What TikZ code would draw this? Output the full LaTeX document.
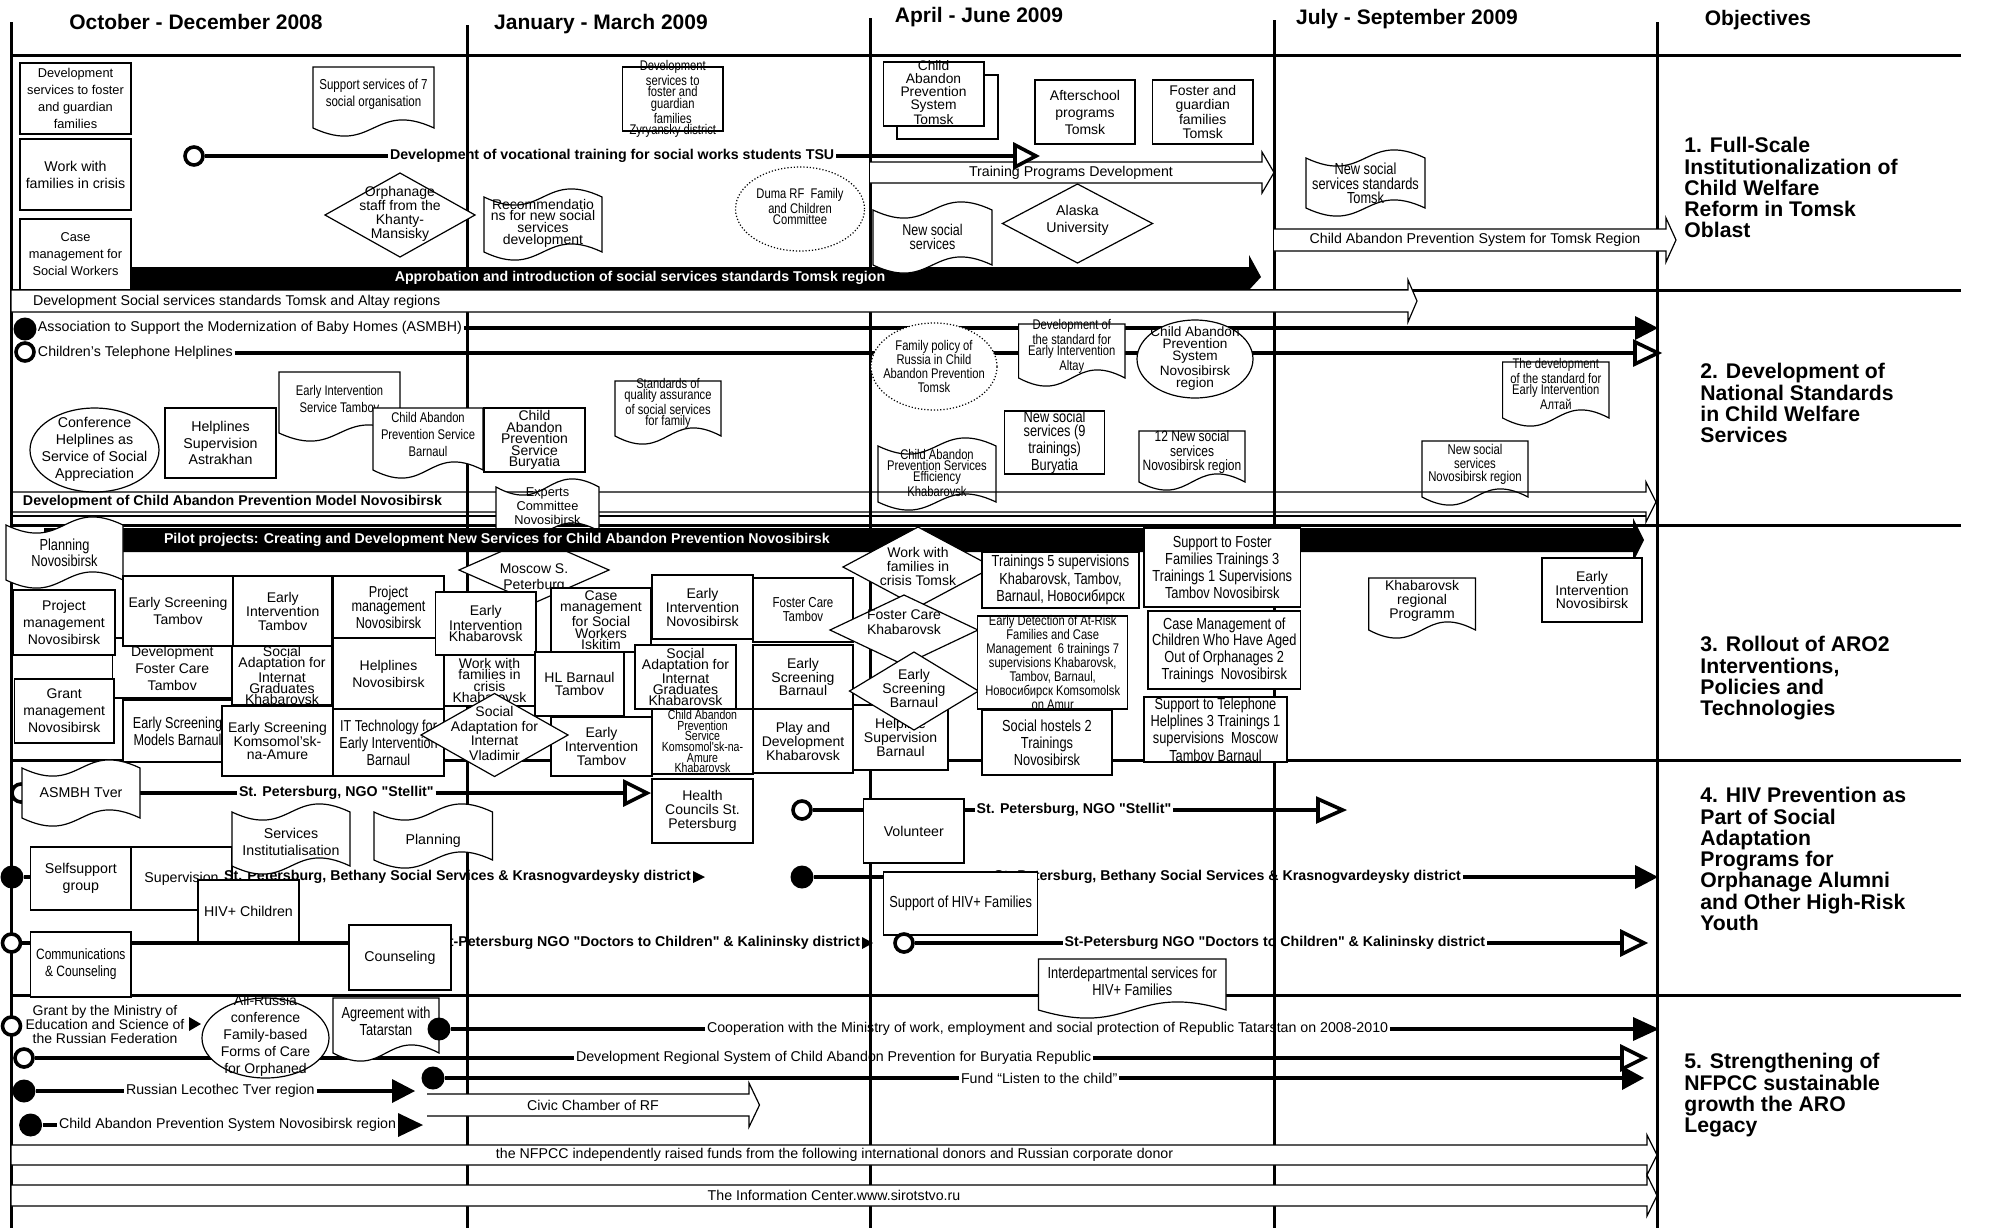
\documentclass[tikz,border=0pt]{standalone}
\usepackage{fontspec}
\setmainfont{Liberation Sans}
\newfontfamily\cond[FakeStretch=0.8]{Liberation Sans}
\newcommand\F[2]{\fontsize{#1}{#2}\selectfont}
\newcommand\qq{\XeTeXglyph\XeTeXglyphindex "quotedbl"\relax}
\tikzset{
 gridl/.style={line width=1.5pt},
 bx/.style={draw, line width=0.6pt, fill=white},
 wa/.style={draw, line width=0.6pt, fill=white, line join=miter},
 tx/.style={inner sep=0pt, align=center},
 conn/.style={line width=2.2pt},
 ocirc/.style={circle, draw, line width=1.8pt, fill=white, minimum size=9pt, inner sep=0pt},
 fcirc/.style={circle, fill=black, minimum size=11.5pt, inner sep=0pt},
 blab/.style={inner sep=0.8pt, font={\bfseries\F{7.1}{8}}},
 rlab/.style={inner sep=0.8pt, font={\F{7.1}{8}}},
 hdr/.style={inner sep=0pt, font={\bfseries\F{10.5}{12}}},
 obj/.style={inner sep=0pt, align=left, anchor=north west, font={\bfseries\F{10.6}{10.65}}},
}
\newcommand\rbox[7]{\draw[bx] (#2,#3) rectangle (#4,#5);
 \node[tx,font={#6}] (#1) at ({(#2+#4)/2},{(#3+#5)/2}) {#7};}
\newcommand\docb[8]{\draw[bx] (#2,#3) -- (#4,#3) -- (#4,#5) .. controls ({(#2+#4)/2},{#5-28}) and ({(#2+#4)/2},{#5+28}) .. (#2,#5) -- cycle;
 \node[tx,font={#7}] (#1) at ({(#2+#4)/2},#6) {#8};}
\newcommand\tapeb[8]{\draw[bx] (#2,#3) .. controls ({(#2+#4)/2},{#3+28}) and ({(#2+#4)/2},{#3-28}) .. (#4,#3) -- (#4,#5) .. controls ({(#2+#4)/2},{#5-28}) and ({(#2+#4)/2},{#5+28}) .. (#2,#5) -- cycle;
 \node[tx,font={#7}] (#1) at ({(#2+#4)/2},#6) {#8};}
\newcommand\dia[8]{\draw[bx] ({#2-#4},#3) -- (#2,{#3-#5}) -- ({#2+#4},#3) -- (#2,{#3+#5}) -- cycle;
 \node[tx,font={#7}] (#1) at (#2,#6) {#8};}
\newcommand\ellb[9][]{\draw[bx,#1] (#3,#4) ellipse [x radius={#5*0.5pt}, y radius={#6*0.5pt}];
 \node[tx,font={#8}] (#2) at (#3,#7) {#9};}
\newcommand\fhead[4][12]{\fill (#2,{#4-#1}) -- (#3,#4) -- (#2,{#4+#1}) -- cycle;}
\newcommand\ohead[4][11]{\draw[line width=1.8pt,fill=white,line join=miter] (#2,{#4-#1}) -- (#3,#4) -- (#2,{#4+#1}) -- cycle;}
\begin{document}
\begin{tikzpicture}[x=0.5pt,y=-0.5pt]
\useasboundingbox (0,0) rectangle (1997,1228);
\fill[white] (0,0) rectangle (1997,1228);
% headers
\node[hdr] (h1) at (196,22) {October - December 2008};
\node[hdr] (h2) at (601,24) {January - March 2009};
\node[hdr] (h3) at (979,17) {April - June 2009};
\node[hdr] (h4) at (1407,19) {July - September 2009};
\node[hdr] (h5) at (1758,20) {Objectives};
% grid
\draw[gridl] (11,22) -- (11,1228);
\draw[gridl] (467,25) -- (467,1228);
\draw[gridl] (870,18) -- (870,1228);
\draw[gridl] (1274,20) -- (1274,1228);
\draw[gridl] (1657,22) -- (1657,1228);
\foreach \yy in {55,290,525,760,995} {\draw[gridl] (11,\yy) -- (1961,\yy);}
% ===== Row 1
\rbox{a1}{20}{63}{131}{134}{\F{6.4}{8.5}}{Development\\services to foster\\and guardian\\families}
\rbox{a2}{20}{139}{131}{210}{\F{7.1}{8.5}}{Work with\\families in crisis}
\docb{d1}{313}{67}{434}{128}{94.5}{\cond\F{7.2}{8.5}}{Support services of 7\\social organisation}
\node[ocirc] (c1) at (194,156) {};
\node[blab,anchor=west] (l1) at (388,156) {Development of vocational training for social works students TSU};
\draw[conn] (c1.east) -- (l1.west);
\draw[conn] (l1.east) -- (1015,156);
\dia{o1}{400}{215}{75}{42}{214}{\F{7}{7}}{Orphanage\\staff from the\\Khanty-\\Mansisky}
\tapeb{r1}{484}{197}{602}{252}{223}{\F{7}{5.8}}{Recommendatio\\ns for new social\\services\\development}
\rbox{z1}{622.5}{67}{723}{131}{\cond\F{7}{5.75}}{Development\\services to\\foster and\\guardian\\families\\Zyryansky district}
\draw[bx] (897,75) rectangle (998,139);
\draw[bx] (883.5,62) rectangle (984,126);
\node[tx,font={\F{6.9}{6.4}}] (cap1) at (933.5,92.5) {Child\\Abandon\\Prevention\\System\\Tomsk};
\rbox{as1}{1035}{80}{1135}{144}{\F{7}{8.5}}{Afterschool\\programs\\Tomsk}
\rbox{fg1}{1152.5}{80}{1253}{144}{\F{7}{7.2}}{Foster and\\guardian\\families\\Tomsk}
\ellb[densely dotted]{du1}{800}{209}{64.5}{42}{206.7}{\cond\F{7}{5.75}}{Duma RF~ Family\\and Children\\Committee}
\draw[wa] (870,162) -- (1262,162) -- (1262,152) -- (1274,172.5) -- (1262,193) -- (1262,183) -- (870,183);
\node[rlab] (tp) at (1071,172.5) {Training Programs Development};
\ohead{1015}{1036}{156}
\dia{al1}{1077.5}{223.5}{75}{39.5}{220.5}{\F{7.1}{8.5}}{Alaska\\University}
\draw[wa] (1274,229) -- (1666,229) -- (1666,218) -- (1676,240) -- (1666,262) -- (1666,251) -- (1274,251);
\node[rlab] (tr) at (1475,239.5) {Child Abandon Prevention System for Tomsk Region};
\tapeb{nst}{1306}{158}{1425}{208}{183.5}{\cond\F{8}{7.2}}{New social\\services standards\\Tomsk}
\fill (100,267) -- (1249,267) -- (1249,255) -- (1261,277) -- (1249,290) -- (100,290) -- cycle;
\node[blab,text=white] (apb) at (640,278) {Approbation and introduction of social services standards Tomsk region};
\rbox{a3}{20}{219}{131}{290}{\F{6.4}{8.5}}{Case\\management for\\Social Workers}
\tapeb{ns1}{873}{210}{992}{265}{237}{\cond\F{7.8}{7}}{New social\\services}
\draw[wa] (11,290) -- (1408,290) -- (1408,280) -- (1417,301) -- (1408,322) -- (1408,312) -- (11,312) -- cycle;
\node[rlab,anchor=west] (dss) at (31,302) {Development Social services standards Tomsk and Altay regions};
% ===== Row 2
\node[fcirc] (c2) at (25,329) {};
\node[rlab,anchor=west] (l2) at (36,328) {Association to Support the Modernization of Baby Homes (ASMBH)};
\draw[conn] (l2.east) -- (1635,328);
\fhead{1635}{1658}{328}
\node[ocirc] (c3) at (25,352) {};
\node[rlab,anchor=west] (l3) at (36,353) {Children’s Telephone Helplines};
\draw[conn] (l3.east) -- (1635,353);
\ohead{1635}{1658}{353}
\ellb{cf1}{94.5}{450}{64.5}{42}{449.5}{\F{7.1}{8.5}}{Conference\\Helplines as\\Service of Social\\Appreciation}
\rbox{hs1}{165}{408}{276}{478}{\F{7.1}{8.3}}{Helplines\\Supervision\\Astrakhan}
\docb{ei1}{279}{372}{400}{433}{398.5}{\cond\F{7}{8.5}}{Early Intervention\\Service Tambov}
\docb{cb1}{373}{408}{483}{470}{434}{\cond\F{7}{8.5}}{Child Abandon\\Prevention Service\\Barnaul}
\rbox{cbu}{484}{408}{585}{472}{\F{7}{5.75}}{Child\\Abandon\\Prevention\\Service\\Buryatia}
\docb{sq1}{615}{381}{721}{436}{403.5}{\cond\F{7}{5.5}}{Standards of\\quality assurance\\of social services\\for family}
\ellb[densely dotted]{fp1}{934}{366.5}{63}{43.5}{366}{\cond\F{7}{7}}{Family policy of\\Russia in Child\\Abandon Prevention\\Tomsk}
\docb{ds1}{1018.6}{324}{1125}{378}{346.5}{\cond\F{7}{5.5}}{Development of\\the standard for\\Early Intervention\\Altay}
\ellb{cn1}{1195}{359}{58}{39}{358.5}{\F{6.8}{5.9}}{Child Abandon\\Prevention\\System\\Novosibirsk\\region}
\rbox{nb1}{1004.5}{411}{1104.7}{474}{\cond\F{8}{7.2}}{New social\\services (9\\trainings)\\Buryatia}
\docb{n12}{1139}{431}{1245}{482}{452.5}{\cond\F{7.5}{7.25}}{12 New social\\services\\Novosibirsk region}
\tapeb{ce1}{878}{446}{996}{502}{473}{\cond\F{7}{5.5}}{Child Abandon\\Prevention Services\\Efficiency\\Khabarovsk}
\docb{da1}{1502.6}{362}{1609}{418}{384}{\cond\F{7}{5.65}}{The development\\of the standard for\\Early Intervention\\Алтай}
\docb{nn1}{1422}{441}{1528}{497}{464.5}{\cond\F{7.1}{6.75}}{New social\\services\\Novosibirsk region}
\draw[line width=0.6pt,line join=miter] (11,492) -- (1646,492) -- (1646,482) -- (1656,502) -- (1646,522) -- (1646,512) -- (11,512);
\draw[line width=0.6pt] (11,516) -- (1646,516);
\node[blab,anchor=west] (dm) at (21,502) {Development of Child Abandon Prevention Model Novosibirsk};
\tapeb{ex1}{496}{487}{599}{531}{506}{\F{6.4}{7}}{Experts\\Committee\\Novosibirsk}
% ===== Row 3
\dia{ms1}{534}{570}{75}{33}{578}{\F{7}{7.8}}{Moscow S.\\Peterburg}
\fill (44,528) -- (1633,528) -- (1633,518) -- (1644,540) -- (1633,562) -- (1633,552) -- (44,552) -- cycle;
\node[blab,text=white,anchor=west] (pp) at (162,540) {Pilot projects: Creating and Development New Services for Child Abandon Prevention Novosibirsk};
\tapeb{pl1}{6}{525}{123}{580}{553}{\cond\F{8}{8}}{Planning\\Novosibirsk}
\rbox{b3}{112.5}{638}{232}{698}{\F{7}{8.5}}{Development\\Foster Care\\Tambov}
\rbox{b1}{13}{590}{115}{655}{\F{7}{8.5}}{Project\\management\\Novosibirsk}
\rbox{b2}{14.5}{679}{114}{743}{\F{7}{8.5}}{Grant\\management\\Novosibirsk}
\rbox{b4}{123}{576}{233}{646}{\F{7}{8.5}}{Early Screening\\Tambov}
\rbox{b5}{123}{700}{232}{762}{\cond\F{7.9}{8.5}}{Early Screening\\Models Barnaul}
\rbox{b6}{233.5}{576}{332}{646}{\F{7}{7}}{Early\\Intervention\\Tambov}
\rbox{b7}{232}{646}{332}{705}{\F{7}{5.6}}{Social\\Adaptation for\\Internat\\Graduates\\Khabarovsk}
\rbox{b8}{222}{706}{333}{776}{\F{7}{6.75}}{Early Screening\\Komsomol'sk-\\na-Amure}
\rbox{b9}{333}{576}{444}{638}{\cond\F{7.9}{7}}{Project\\management\\Novosibirsk}
\rbox{b10}{333}{638}{444}{709}{\F{7}{8.5}}{Helplines\\Novosibirsk}
\rbox{b11}{333}{709}{444}{776}{\cond\F{7.9}{8.5}}{IT Technology for\\Early Intervention\\Barnaul}
\rbox{b13}{444}{655}{535}{706}{\F{7}{5.65}}{Work with\\families in\\crisis\\Khabarovsk}
\rbox{b12}{435.5}{592}{536}{655}{\F{7}{5.75}}{Early\\Intervention\\Khabarovsk}
\rbox{b16}{551}{588}{651}{652}{\F{7}{5.75}}{Case\\management\\for Social\\Workers\\Iskitim}
\rbox{b15}{535}{652}{624}{716}{\F{7}{6.5}}{HL Barnaul\\Tambov}
\rbox{b17}{551}{717}{652}{776}{\F{7}{7.2}}{Early\\Intervention\\Tambov}
\dia{vl1}{494.5}{735}{73.5}{41.5}{733.5}{\F{7}{7.2}}{Social\\Adaptation for\\Internat\\Vladimir}
\rbox{b21}{652}{709}{753}{774}{\cond\F{6.6}{5.3}}{Child Abandon\\Prevention\\Service\\Komsomol'sk-na-\\Amure\\Khabarovsk}
\rbox{b18}{635}{645}{736}{709}{\F{7}{5.4}}{Social\\Adaptation for\\Internat\\Graduates\\Khabarovsk}
\rbox{b19}{652}{575}{753}{639}{\F{7}{7}}{Early\\Intervention\\Novosibirsk}
\rbox{b20}{753}{578}{853}{642}{\cond\F{7.2}{7}}{Foster Care\\Tambov}
\rbox{b22}{753}{645}{853}{709}{\F{7}{6.75}}{Early\\Screening\\Barnaul}
\rbox{b23}{753}{709}{853}{773}{\F{7}{7}}{Play and\\Development\\Khabarovsk}
\rbox{b24}{853}{705}{948}{770}{\F{7}{7.2}}{Helpline\\Supervision\\Barnaul}
\dia{wt1}{918}{567}{75}{40}{566}{\F{7}{7}}{Work with\\families in\\crisis Tomsk}
\dia{fk1}{904}{630}{74}{35}{622.5}{\F{7}{7.5}}{Foster Care\\Khabarovsk}
\dia{esb}{914}{691}{64.5}{39}{688}{\F{7}{7}}{Early\\Screening\\Barnaul}
\rbox{t1}{982}{552}{1139}{608}{\cond\F{8}{8.7}}{Trainings 5 supervisions\\Khabarovsk, Tambov,\\Barnaul, Новосибирск}
\rbox{t2}{977.7}{616}{1127.7}{709}{\cond\F{7}{7}}{Early Detection of At-Risk\\Families and Case\\Management~ 6 trainings 7\\supervisions Khabarovsk,\\Tambov, Barnaul,\\Новосибирск Komsomolsk\\on Amur}
\rbox{t3}{982}{710}{1112}{775}{\cond\F{8}{8.5}}{Social hostels 2\\Trainings\\Novosibirsk}
\rbox{s1}{1144}{528}{1300.5}{607}{\cond\F{8}{8.5}}{Support to Foster\\Families Trainings 3\\Trainings 1 Supervisions\\Tambov Novosibirsk}
\rbox{s2}{1148}{611}{1300.5}{689}{\cond\F{8}{8.3}}{Case Management of\\Children Who Have Aged\\Out of Orphanages 2\\Trainings~ Novosibirsk}
\rbox{s3}{1144}{697}{1287}{762}{\cond\F{8}{8.6}}{Support to Telephone\\Helplines 3 Trainings 1\\supervisions~ Moscow\\Tambov Barnaul}
\docb{kr1}{1368.7}{578}{1475.4}{630}{601}{\F{7}{7}}{Khabarovsk\\regional\\Programm}
\rbox{ein}{1542}{558}{1642}{622}{\F{7}{6.75}}{Early\\Intervention\\Novosibirsk}
% ===== Row 4
\node[ocirc] (c10) at (21,793) {};
\node[blab,anchor=west] (l10) at (237,793) {St. Petersburg, NGO \qq Stellit\qq};
\draw[conn] (c10.east) -- (l10.west);
\draw[conn] (l10.east) -- (625,793);
\ohead{625}{647}{793}
\tapeb{tv}{22}{768}{140}{818}{793}{\F{7.1}{8.5}}{ASMBH Tver}
\rbox{hc}{652}{779}{753}{843}{\F{7}{7}}{Health\\Councils St.\\Petersburg}
\node[ocirc] (c11) at (802,810) {};
\draw[conn] (c11.east) -- (863.6,810);
\node[blab,anchor=west] (l11) at (974.6,810) {St. Petersburg, NGO \qq Stellit\qq};
\draw[conn] (964,810) -- (l11.west);
\draw[conn] (l11.east) -- (1318,810);
\ohead{1318}{1342.6}{810}
\rbox{vol}{863.6}{799}{964}{863}{\F{7.1}{8}}{Volunteer}
\node[fcirc] (c12) at (12,877) {};
\draw[conn] (c12.east) -- (228,877);
\rbox{ss}{30.6}{847}{131}{910}{\F{7.1}{8.5}}{Selfsupport\\group}
\rbox{sv}{131}{847}{232}{910}{\F{7.1}{8}}{Supervision}
\node[blab,anchor=east] (l12) at (693,877) {St. Petersburg, Bethany Social Services \& Krasnogvardeysky district};
\fill (693,871) -- (705,877) -- (693,883) -- cycle;
\tapeb{si}{232}{812}{350}{866}{841.5}{\F{7.1}{8.5}}{Services\\Institutialisation}
\tapeb{pn}{374}{812}{492.5}{860}{841}{\F{7.1}{8}}{Planning}
\rbox{hiv}{198}{880}{299}{943}{\F{7.1}{8}}{HIV+ Children}
\node[fcirc] (c13) at (802,877) {};
\draw[conn] (c13.east) -- (883.5,877);
\node[blab,anchor=east] (l13) at (1463,877) {St. Petersburg, Bethany Social Services \& Krasnogvardeysky district};
\draw[conn] (l13.east) -- (1635,877);
\fhead{1635}{1658}{877}
\rbox{shf}{883.5}{872}{1037.8}{935}{\cond\F{8}{8}}{Support of HIV+ Families}
\node[ocirc] (c14) at (11.5,943) {};
\node[blab,anchor=east] (l14) at (862,943) {St-Petersburg NGO \qq Doctors to Children\qq{} \& Kalininsky district};
\draw[conn] (c14.east) -- (l14.west);
\fill (862,937) -- (873,943) -- (862,949) -- cycle;
\rbox{cc}{30.6}{932}{131}{997}{\cond\F{7.5}{8.5}}{Communications\\\& Counseling}
\rbox{cs}{349}{925}{451}{990}{\F{7.1}{8}}{Counseling}
\node[ocirc] (c15) at (904,943) {};
\node[blab,anchor=west] (l15) at (1062.6,943) {St-Petersburg NGO \qq Doctors to Children\qq{} \& Kalininsky district};
\draw[conn] (c15.east) -- (l15.west);
\draw[conn] (l15.east) -- (1622,943);
\ohead{1622}{1644}{943}
\docb{ids}{1038.5}{959}{1226}{1010}{981.5}{\cond\F{8}{6.5}}{Interdepartmental services for\\HIV+ Families}
% ===== Row 5
\node[ocirc] (c20) at (11.5,1026) {};
\node[tx,font={\F{7}{7}}] (gm) at (105,1024) {Grant by the Ministry of\\Education and Science of\\the Russian Federation};
\fill (189,1017) -- (201,1024) -- (189,1031) -- cycle;
\node[ocirc] (c21) at (24,1058) {};
\node[rlab,anchor=west] (l21) at (574,1058) {Development Regional System of Child Abandon Prevention for Buryatia Republic};
\draw[conn] (c21.east) -- (l21.west);
\draw[conn] (l21.east) -- (1622,1058);
\ohead{1622}{1644}{1058}
\ellb{ar1}{265.5}{1038}{63.5}{40}{1036}{\F{7}{8.5}}{All-Russia\\conference\\Family-based\\Forms of Care\\for Orphaned}
\docb{ag1}{333}{998}{439}{1053}{1021.5}{\cond\F{8}{8.5}}{Agreement with\\Tatarstan}
\node[fcirc] (c22) at (439,1029) {};
\node[rlab,anchor=west] (l22) at (705,1029) {Cooperation with the Ministry of work, employment and social protection of Republic Tatarstan on 2008-2010};
\draw[conn] (c22.east) -- (l22.west);
\draw[conn] (l22.east) -- (1633,1029);
\fhead{1633}{1659}{1029}
\node[fcirc] (c23) at (433,1078) {};
\node[rlab,anchor=west] (l23) at (959,1078) {Fund “Listen to the child”};
\draw[conn] (c23.east) -- (l23.west);
\draw[conn] (l23.east) -- (1622,1078);
\fhead{1622}{1644}{1078}
\node[fcirc] (c24) at (24,1091) {};
\node[rlab,anchor=west] (l24) at (124,1091) {Russian Lecothec Tver region};
\draw[conn] (c24.east) -- (l24.west);
\draw[conn] (l24.east) -- (392,1091);
\fhead{392}{415}{1091}
\draw[wa] (427,1094) -- (749,1094) -- (749,1083) -- (759.5,1105) -- (749,1127) -- (749,1116) -- (427,1116);
\node[rlab] (cv) at (593,1105) {Civic Chamber of RF};
\node[fcirc] (c25) at (30.6,1125) {};
\node[rlab,anchor=west] (l25) at (57,1125) {Child Abandon Prevention System Novosibirsk region};
\draw[conn] (c25.east) -- (l25.west);
\fhead{398}{423}{1125}
% bottom arrows
\draw[wa] (11,1145) -- (1647,1145) -- (1647,1135) -- (1657,1155) -- (1647,1175) -- (1647,1165) -- (11,1165) -- cycle;
\draw[wa] (11,1185) -- (1647,1185) -- (1647,1175) -- (1657,1195.5) -- (1647,1216) -- (1647,1206) -- (11,1206) -- cycle;
\node[rlab] (nf) at (834.6,1155) {the NFPCC independently raised funds from the following international donors and Russian corporate donor};
\node[rlab] (ic) at (834,1195.5) {The Information Center.www.sirotstvo.ru};
% objectives
\node[obj] (ob1) at (1684,137) {1. Full-Scale\\Institutionalization of\\Child Welfare\\Reform in Tomsk\\Oblast};
\node[obj] (ob2) at (1700,363) {2. Development of\\National Standards\\in Child Welfare\\Services};
\node[obj] (ob3) at (1700,636) {3. Rollout of ARO2\\Interventions,\\Policies and\\Technologies};
\node[obj] (ob4) at (1700,787) {4. HIV Prevention as\\Part of Social\\Adaptation\\Programs for\\Orphanage Alumni\\and Other High-Risk\\Youth};
\node[obj] (ob5) at (1684,1053) {5. Strengthening of\\NFPCC sustainable\\growth the ARO\\Legacy};
\end{tikzpicture}
\end{document}
